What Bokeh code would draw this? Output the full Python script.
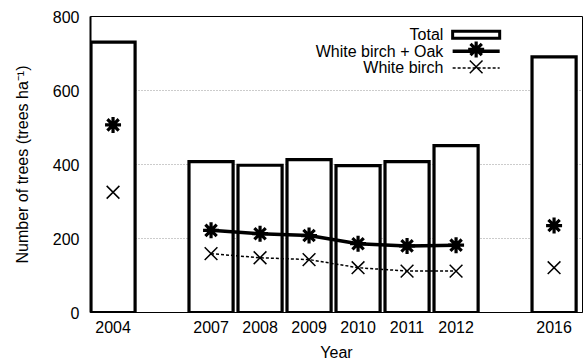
from bokeh.plotting import figure
from bokeh.models import FixedTicker, Range1d, Label
from bokeh.embed import file_html
from bokeh.resources import INLINE

# Axis slots: empty strings leave gaps between survey periods
slots = ["2004", "", "2007", "2008", "2009", "2010", "2011", "2012", "", "2016"]
years = ["2004", "2007", "2008", "2009", "2010", "2011", "2012", "2016"]
total = [731, 408, 398, 413, 397, 408, 451, 691]
birch_oak = [507, 222, 213, 208, 186, 180, 182, 235]
birch = [325, 159, 148, 143, 121, 112, 112, 121]

FONT = "Liberation Sans"
FS = "16px"

xpos = [slots.index(y) for y in years]
# consecutive annual surveys are joined by lines
annual = [i for i, y in enumerate(years) if 2007 <= int(y) <= 2012]

p = figure(width=585, height=363, x_range=Range1d(-0.46, 9.58), y_range=Range1d(0, 800),
           output_backend="svg", toolbar_location=None,
           min_border_left=90, min_border_right=3, min_border_top=16, min_border_bottom=48)
p.background_fill_color = "white"
p.border_fill_color = "white"
p.outline_line_color = "black"
p.outline_line_width = 1

p.vbar(x=xpos, top=total, width=0.9, fill_color="white", line_color="black",
       line_width=3.2, line_join="miter")

p.line([xpos[i] for i in annual], [birch_oak[i] for i in annual], line_color="black", line_width=3.5)
p.line([xpos[i] for i in annual], [birch[i] for i in annual], line_color="black", line_width=1.5,
       line_dash="3 2")
p.scatter(xpos, birch_oak, marker="asterisk", size=16, line_color="black", line_width=3.2)
p.scatter(xpos, birch, marker="x", size=18, line_color="black", line_width=1.5)

# key, drawn at the top right of the frame
lx, sx0, sx1, scx = 6.74, 6.93, 7.89, 7.41
p.quad(left=[sx0], right=[sx1], top=[760], bottom=[741], fill_color="white",
       line_color="black", line_width=3, line_join="miter")
p.line([sx0, sx1], [706, 706], line_color="black", line_width=3.5)
p.scatter([scx], [711], marker="asterisk", size=16, line_color="black", line_width=3.2)
p.line([sx0, sx1], [661, 661], line_color="black", line_width=1.5, line_dash="3 2")
p.scatter([scx], [664], marker="x", size=18, line_color="black", line_width=1.5)
for txt, yy in [("Total", 752), ("White birch + Oak", 706), ("White birch", 661)]:
    p.add_layout(Label(x=lx, y=yy, text=txt, text_align="right", text_baseline="middle",
                       text_font=FONT, text_font_size=FS, text_color="black"))

p.xaxis.ticker = FixedTicker(ticks=xpos)
p.xaxis.major_label_overrides = {x: y for x, y in zip(xpos, years)}
p.yaxis.ticker = FixedTicker(ticks=[0, 200, 400, 600, 800])
p.xaxis.axis_label = "Year"
p.yaxis.axis_label = "Number of trees (trees ha\u207b\u00b9)"
for ax in (p.xaxis, p.yaxis):
    ax.major_tick_in = 0
    ax.major_tick_out = 0
    ax.minor_tick_in = 0
    ax.minor_tick_out = 0
    ax.axis_line_color = "black"
    ax.major_label_text_font = FONT
    ax.major_label_text_font_size = FS
    ax.major_label_text_color = "black"
    ax.axis_label_text_font = FONT
    ax.axis_label_text_font_size = FS
    ax.axis_label_text_font_style = "normal"
    ax.axis_label_text_color = "black"
p.yaxis.axis_line_width = 2
p.xaxis.major_label_standoff = 8
p.xaxis.axis_label_standoff = 8
p.yaxis.major_label_standoff = 11
p.yaxis.axis_label_standoff = 19

p.xgrid.visible = False
p.ygrid.grid_line_color = "#999999"
p.ygrid.grid_line_dash = "1 2"
p.ygrid.grid_line_width = 1

open("out.html", "w").write(file_html(p, INLINE))
